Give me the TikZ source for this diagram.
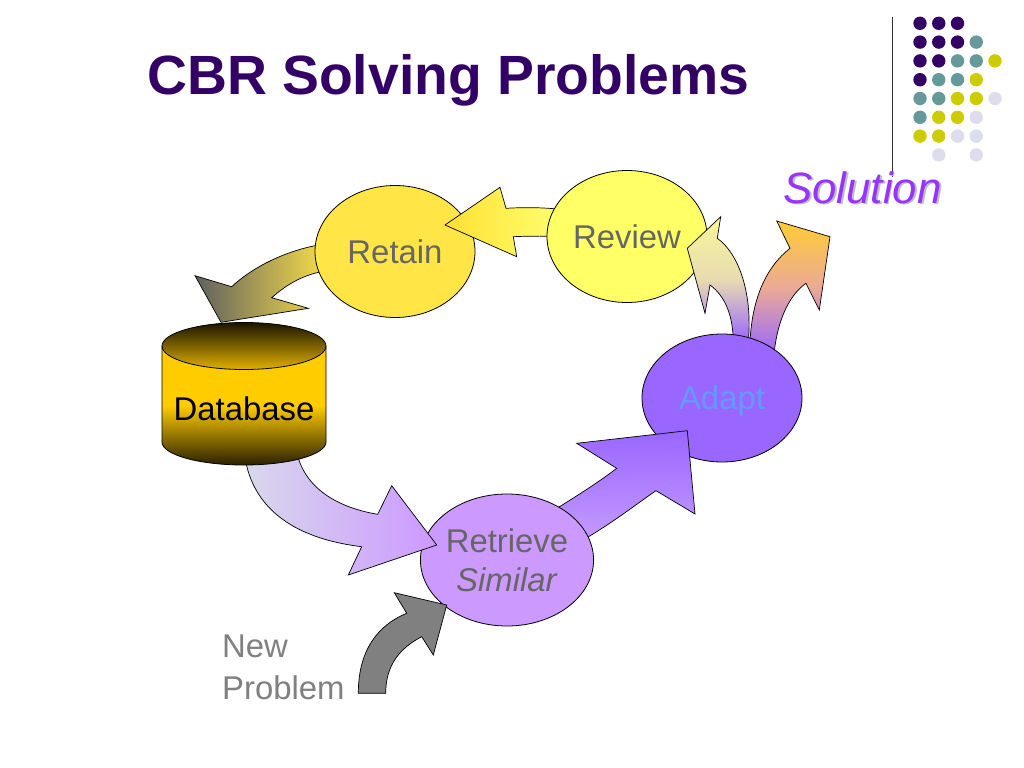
\documentclass[tikz,border=0pt]{standalone}
\usepackage{fontspec}
\setmainfont{Liberation Sans}
\usetikzlibrary{shapes.geometric}
\definecolor{titlepurple}{HTML}{330066}
\definecolor{solpurple}{HTML}{9933FF}
\definecolor{retainfill}{HTML}{FFE646}
\definecolor{reviewfill}{HTML}{FFFF66}
\definecolor{adaptfill}{HTML}{9966FF}
\definecolor{retrievefill}{HTML}{CC99FF}
\definecolor{stagetext}{HTML}{666666}
\definecolor{adapttext}{HTML}{6699FF}
\definecolor{nptext}{HTML}{808080}
\definecolor{npgrey}{HTML}{808080}
\definecolor{yelL}{HTML}{FFE033}
\definecolor{yelR}{HTML}{FFFF70}
\definecolor{greyL}{HTML}{5F5F5F}
\definecolor{goldR}{HTML}{F2DA4A}
\definecolor{lavL}{HTML}{D8D8EC}
\definecolor{lavR}{HTML}{CC99FF}
\definecolor{purpT}{HTML}{9966FF}
\definecolor{purpB}{HTML}{C59CFF}
\definecolor{paleY}{HTML}{F8F59A}
\definecolor{paleMid}{HTML}{E8DCB0}
\definecolor{orangeY}{HTML}{FFCC33}
\definecolor{orangeMid}{HTML}{EBAA96}
\definecolor{dbgold}{HTML}{FFCC00}
\definecolor{dbdark}{HTML}{2A2000}
\definecolor{dbtop}{HTML}{1A1400}
\definecolor{dbtopb}{HTML}{E0B000}
\definecolor{dotP}{HTML}{330066}
\definecolor{dotT}{HTML}{669999}
\definecolor{dotY}{HTML}{CCCC00}
\definecolor{dotL}{HTML}{DDDDEE}
\tikzset{
  stage/.style={ellipse, draw=black, line width=0.8bp, minimum width=160bp,
    minimum height=132bp, inner sep=0pt, text depth=0pt,
    font=\fontsize{33}{39}\selectfont, text=stagetext, align=center},
  blockarrow/.style={draw=black, line width=0.7bp, line join=miter},
  plaintext/.style={inner sep=0pt, font=\fontsize{33}{39}\selectfont}
}
\begin{document}
\begin{tikzpicture}[x=1bp,y=-1bp]
\useasboundingbox[fill=white] (0,0) rectangle (1024,768);

% decoration: line and dots
\draw[line width=0.8bp, black!80] (892,17) -- (892,177);
\foreach \c/\r/\col in {0/0/dotP,1/0/dotP,2/0/dotP,
  0/1/dotP,1/1/dotP,2/1/dotP,3/1/dotT,
  0/2/dotP,1/2/dotP,2/2/dotT,3/2/dotT,4/2/dotY,
  0/3/dotP,1/3/dotT,2/3/dotT,3/3/dotY,
  0/4/dotT,1/4/dotT,2/4/dotY,3/4/dotY,4/4/dotL,
  0/5/dotT,1/5/dotY,2/5/dotY,3/5/dotL,
  0/6/dotY,1/6/dotY,2/6/dotL,3/6/dotL,
  1/7/dotL,3/7/dotL}
  \fill[\col] ({920+18.75*\c},{23.3+18.8*\r}) circle[radius=6.7];

% title
\node[anchor=base west, inner sep=0pt, text=titlepurple,
  font=\fontsize{55.5}{60}\selectfont\bfseries] (title) at (147,95) {CBR Solving Problems};

% Solution with shadow
\node[anchor=base west, inner sep=0pt, text=black!25,
  font=\fontsize{44}{50}\selectfont\itshape] (solshadow) at (784.8,204.8) {Solution};
\node[anchor=base west, inner sep=0pt, text=solpurple,
  font=\fontsize{44}{50}\selectfont\itshape] (solution) at (783,203) {Solution};

% Retain -> Database arrow
\draw[blockarrow, left color=greyL, right color=goldR]
  (322,244.5) .. controls (292,249) and (256,264) .. (231.7,286.7)
  -- (195,275.7) -- (221,322.3) -- (308.3,308.3) -- (271.7,297.7)
  .. controls (285,286) and (300,276) .. (322,271.5) -- cycle;

% Retain
\node[stage, fill=retainfill] (retain) at (395,251.5) {Retain};

% Review -> Retain arrow
\draw[blockarrow, left color=yelL, right color=yelR]
  (562,209.5) .. controls (540,207) and (520,207.5) .. (506,208.3)
  -- (500,187.3) -- (445,225) -- (516.7,256.7) -- (513.3,236.7)
  .. controls (528,236) and (545,236) .. (562,236.5) -- cycle;

% Review
\node[stage, fill=reviewfill] (review) at (627,236.5) {Review};

% Adapt -> Review arrow
\draw[blockarrow, top color=paleY, bottom color=purpT, middle color=paleMid]
  (733.3,342) .. controls (733,315) and (725,296) .. (710,285)
  -- (705,313.3) -- (687.3,248.3) -- (720.7,216.7) -- (717.3,238.3)
  .. controls (737,252) and (753,290) .. (748.3,342) -- cycle;

% Adapt -> Solution arrow
\draw[blockarrow, top color=orangeY, bottom color=purpT, middle color=orangeMid]
  (750,342) .. controls (752,300) and (765,268) .. (790,248.3)
  -- (776.7,221) -- (830,236.7) -- (819.3,310) -- (806,283.3)
  .. controls (792,293) and (778,315) .. (774,354) -- cycle;

% Adapt
\node[stage, fill=adaptfill, text=adapttext, minimum height=128bp] (adapt) at (722,398) {Adapt};

% Retrieve -> Adapt arrow
\draw[blockarrow, top color=purpT, bottom color=purpB]
  (548,514) .. controls (570,500) and (595,485) .. (616.7,468.3)
  -- (576.7,443.3) -- (687.3,430.7) -- (695,514) -- (656,490.7)
  .. controls (635,505) and (610,525) .. (576,544) -- cycle;

% Retrieve
\node[stage, fill=retrievefill] (retrieve) at (507,560) {Retrieve\\\textit{Similar}};

% Database -> Retrieve arrow
\draw[blockarrow, left color=lavL, right color=lavR]
  (244.3,452) .. controls (250,505) and (290,538) .. (361.7,546.7)
  -- (348.3,575) -- (436.7,545) -- (391.7,485.7) -- (377.7,514.3)
  .. controls (340,508) and (305,490) .. (296.7,452) -- cycle;

% Database cylinder
\shade[top color=dbgold, bottom color=dbdark, middle color=dbgold]
  (162,346) -- (162,442) .. controls (162,454.7) and (198.7,465) .. (244,465)
  .. controls (289.3,465) and (326,454.7) .. (326,442) -- (326,346) -- cycle;
\draw[line width=0.8bp]
  (162,346) -- (162,442) .. controls (162,454.7) and (198.7,465) .. (244,465)
  .. controls (289.3,465) and (326,454.7) .. (326,442) -- (326,346);
\draw[line width=0.8bp, top color=dbtop, bottom color=dbtopb]
  (244,346) ellipse [x radius=82, y radius=23.5];
\node[plaintext, anchor=base, text=black] (db) at (244,420) {Database};

% New Problem arrow
\draw[blockarrow, fill=npgrey]
  (358.3,693.3) .. controls (358.3,650) and (378,625) .. (406.7,613.3)
  -- (394.3,592.7) -- (446.7,605) -- (433.3,655) -- (421.7,636.7)
  .. controls (400,648) and (385.7,665) .. (385.7,693.3) -- cycle;

% New Problem text
\node[plaintext, anchor=base west, text=nptext] (newtxt) at (222,657) {New};
\node[plaintext, anchor=base west, text=nptext] (probtxt) at (222,699) {Problem};
\end{tikzpicture}
\end{document}
